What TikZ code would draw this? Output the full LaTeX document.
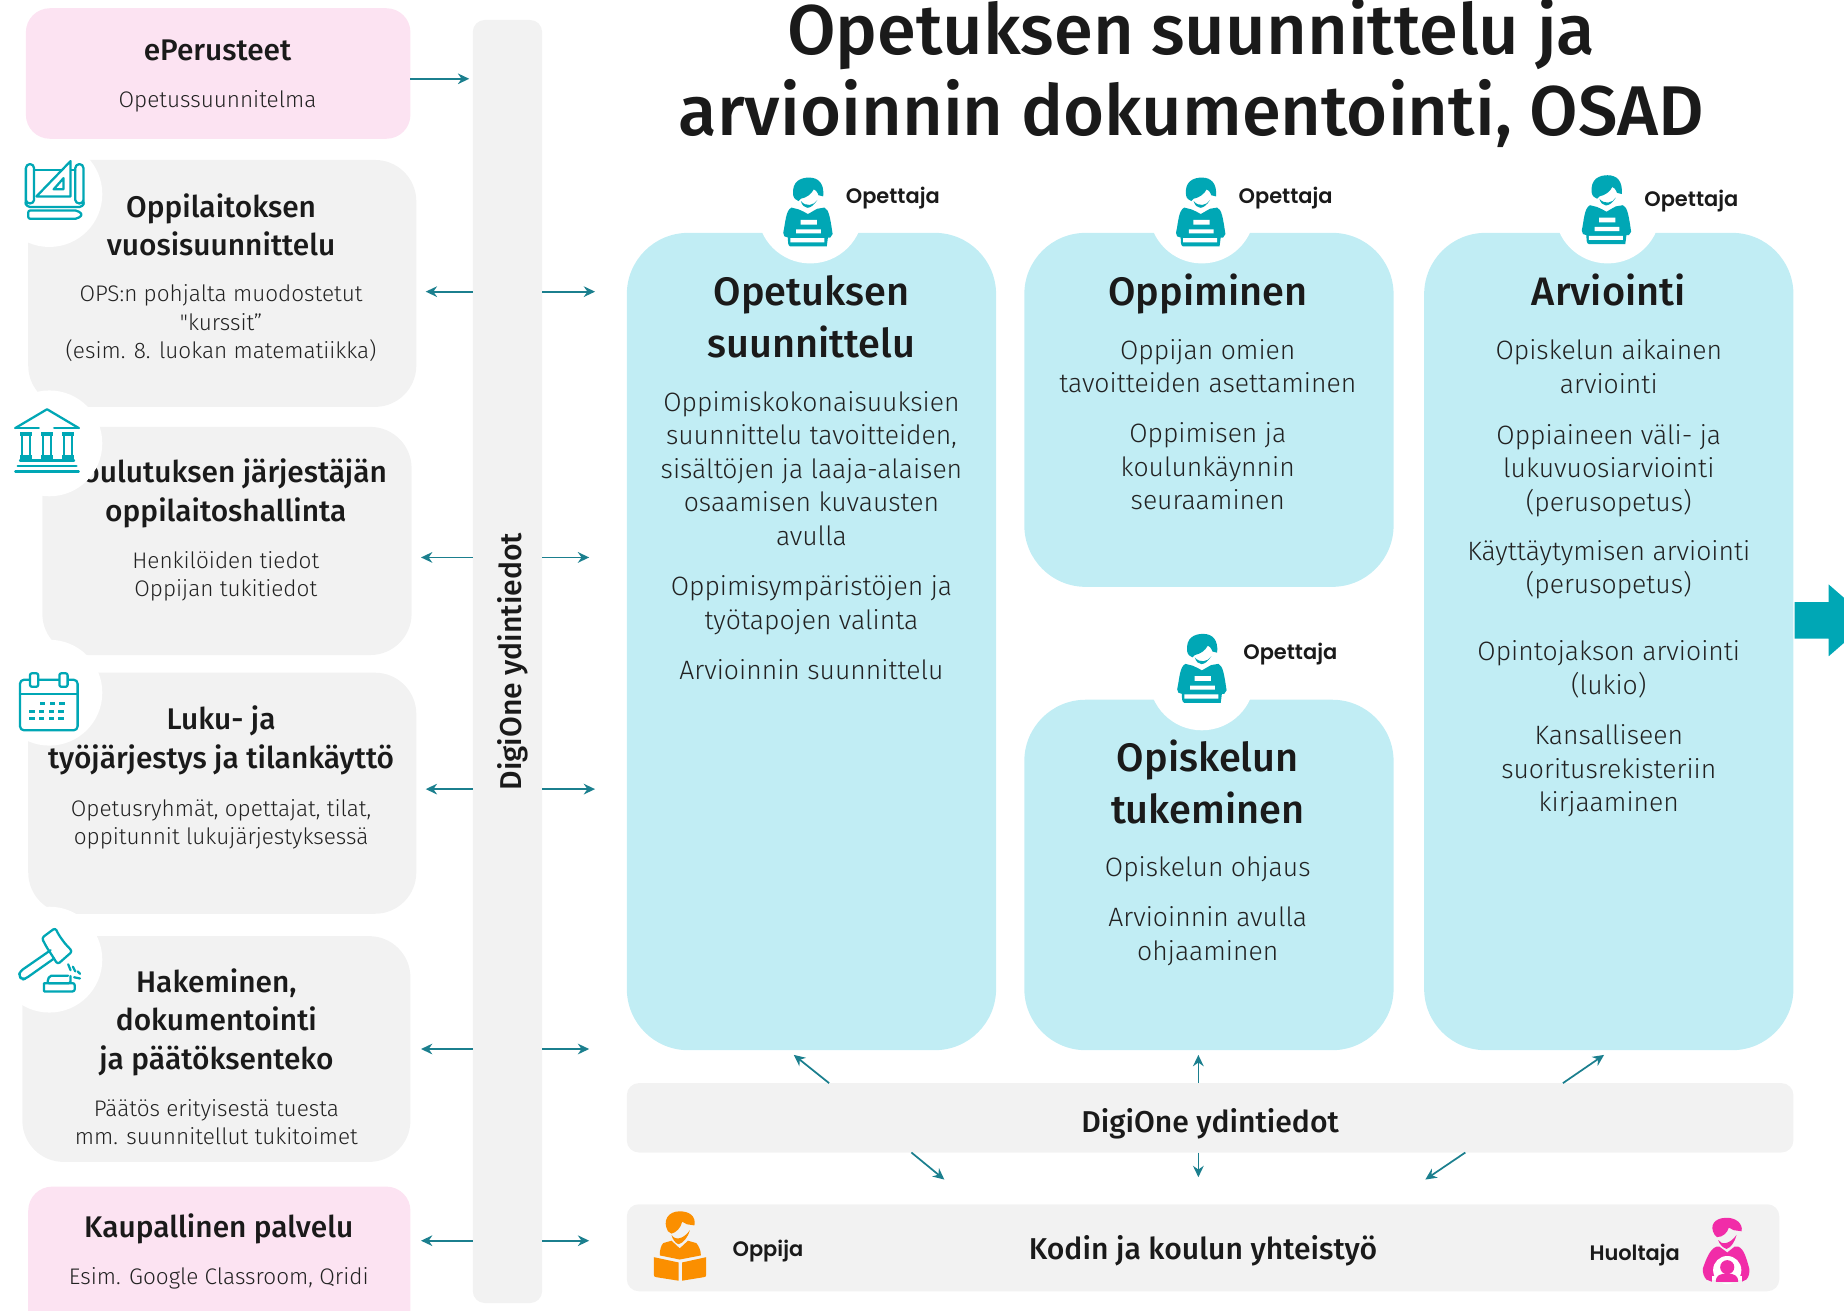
\documentclass[tikz,border=0pt]{standalone}
\usepackage{fontspec}
\usetikzlibrary{fit,arrows.meta}
\setmainfont{Fira Sans Light}
\newfontfamily\hf{Fira Sans Medium}
\newfontfamily\mf{Fira Sans Medium}
\newfontfamily\plainq{Fira Sans Light}
\newfontfamily\lf{Poppins SemiBold}
\definecolor{pinkbox}{HTML}{FCE3F2}
\definecolor{greybox}{HTML}{F2F2F2}
\definecolor{bluecard}{HTML}{C1EDF4}
\definecolor{tealicon}{HTML}{00A7B5}
\definecolor{arrowteal}{HTML}{1B7F8E}
\definecolor{ink}{HTML}{1A1A1A}
\definecolor{bodyink}{HTML}{222222}
\definecolor{orangeicon}{HTML}{FB8F00}
\definecolor{pinkicon}{HTML}{F12CA8}
\newcommand\fz[2]{\fontsize{#1pt}{#2pt}\selectfont}
\newcommand\bx[6]{\coordinate (#2-a) at (#3,#4);\coordinate (#2-b) at (#5,#6);\node[#1,fit=(#2-a)(#2-b)] (#2) {};}
\newcommand\teacher[2]{%
\begin{scope}[shift={(#1,#2)}]
\fill[tealicon] (-12.5,15) .. controls (-14,3) and (-6,0) .. (1,0) .. controls (9,0) and (14,5) .. (13,16) -- (9,15) .. controls (8,12) and (6,10) .. (5,10) .. controls (3,14) and (-1,17) .. (-6,18) -- (-8,20) .. controls (-10,19) and (-12,18) .. cycle;
\fill[tealicon] (-6,20) .. controls (-4,27) and (2,28.5) .. (8,19) .. controls (5,24) and (-2,25) .. cycle;
\fill[tealicon] (-14,25.5) -- (-8,27) .. controls (-5,28) and (-2,30) .. (0,31) .. controls (2,30) and (5,28) .. (8,26.5) -- (14,25.5) .. controls (18,27) and (19,35) .. (21,48) -- (19,51) -- (17,51) -- (16,58.6) -- (-15,58.6) .. controls (-17,58) and (-17,55) .. (-17,51) -- (-20,50) -- (-21,47) .. controls (-19,38) and (-19,28) .. cycle;
\fill[white] (-6.2,36) rectangle (7.6,40) (-10,44) rectangle (11,47.5) (-15,51.5) rectangle (14,55);
\end{scope}}
\tikzset{
 card/.style={fill=bluecard,rounded corners=46pt,inner sep=0pt,outer sep=0pt},
 greyb/.style={fill=greybox,rounded corners=31pt,inner sep=0pt,outer sep=0pt},
 pinkb/.style={fill=pinkbox,rounded corners=18pt,inner sep=0pt,outer sep=0pt},
 flat/.style={fill=greybox,rounded corners=9pt,inner sep=0pt,outer sep=0pt},
 arr/.style={draw=arrowteal,line width=1.3pt,-{Stealth[length=8.5pt,width=8pt]}},
 title/.style={align=center,inner sep=0pt,text=ink,font=\hf\fz{52.8}{60.3}},
 chead/.style={align=center,inner sep=0pt,text=ink,yshift=-2.6pt,font=\hf\fz{29.8}{38.8}},
 lhead/.style={align=center,inner sep=0pt,text=ink,yshift=-2.6pt,font=\hf\fz{22.4}{29.1}},
 cbody/.style={align=center,inner sep=0pt,text=bodyink,yshift=-2.6pt,font=\fz{19.9}{25.1}},
 lbody/.style={align=center,inner sep=0pt,text=bodyink,yshift=-2.2pt,font=\fz{16.9}{21.4}},
 bar/.style={align=center,inner sep=0pt,text=ink,yshift=-2.2pt,font=\mf\fz{22.6}{28}},
 vbartext/.style={inner sep=0pt,text=ink,font=\mf\fz{22.6}{28}},
 who/.style={inner sep=0pt,text=ink,yshift=-1.6pt,font=\lf\fz{15.7}{19}},
 icon/.style={draw=tealicon,line width=1.7pt,line join=round,line cap=round,fill=white},
 iconl/.style={draw=tealicon,line width=1.7pt,line join=round,line cap=round},
}
\begin{document}
\begin{tikzpicture}[x=0.882pt,y=-0.882pt]
\useasboundingbox (0,0) rectangle (1568,1114);
% boxes
\bx{pinkb}{eper}{22}{7}{349}{118}
\bx{greyb}{oppi}{24}{136}{354}{346}
\bx{greyb}{koul}{36}{363}{350}{557}
\bx{greyb}{luku}{24}{572}{354}{777}
\bx{greyb}{hake}{19}{796}{349}{988}
\bx{pinkb}{kaup}{24}{1009}{349}{1135}
\bx{flat}{vbar}{402}{17}{461}{1108}
\bx{card}{c1}{533}{198}{847}{893}
\bx{card}{c2}{871}{198}{1185}{499}
\bx{card}{c3}{871}{595}{1185}{893}
\bx{card}{c4}{1211}{198}{1525}{893}
\bx{flat}{mid}{533}{921}{1525}{980}
\bx{flat}{koti}{533}{1024}{1513}{1098}
% left texts
\node[lhead] (t1) at (185,42) {\strut ePerusteet\strut};
\node[lbody] (t1b) at (185,84) {\strut Opetussuunnitelma\strut};
\node[lhead] (t2) at (188,191.5) {\strut Oppilaitoksen\\vuosisuunnittelu\strut};
\node[lbody] (t2b) at (188,273.5) {\strut OPS:n pohjalta muodostetut\\{\plainq"}kurssit”\\(esim. 8. luokan matematiikka)\strut};
\node[lhead] (t3) at (192,417.5) {\strut Koulutuksen järjestäjän\\oppilaitoshallinta\strut};
\node[lbody] (t3b) at (192,488) {\strut Henkilöiden tiedot\\Oppijan tukitiedot\strut};
\node[lhead] (t4) at (188,627.5) {\strut Luku- ja\\työjärjestys ja tilankäyttö\strut};
\node[lbody] (t4b) at (188,699) {\strut Opetusryhmät, opettajat, tilat,\\oppitunnit lukujärjestyksessä\strut};
\node[lhead] (t5) at (184,867) {\strut Hakeminen,\\dokumentointi\\ja päätöksenteko\strut};
\node[lbody] (t5b) at (184,954) {\strut Päätös erityisestä tuesta\\mm. suunnitellut tukitoimet\strut};
\node[lhead] (t6) at (186,1043) {\strut Kaupallinen palvelu\strut};
\node[lbody] (t6b) at (186,1085) {\strut Esim. Google Classroom, Qridi\strut};
\node[vbartext,rotate=90] (vt) at (436,562.5) {DigiOne ydintiedot};
% circles over the left boxes
\fill[white] (42,165) circle[radius=45] (42,377) circle[radius=45] (42,589) circle[radius=45] (42,816) circle[radius=45];
% title
\node[title] (ti) at (1013,67) {\strut Opetuksen suunnittelu ja\\arvioinnin dokumentointi, OSAD\strut};
% circles over cards
\fill[white] (689,179) circle[radius=45] (1022,179) circle[radius=45] (1367,179) circle[radius=45] (1022,576) circle[radius=45];
\teacher{687}{151}\teacher{1021}{151}\teacher{1366}{149}\teacher{1022}{539}
\node[who,anchor=west] (w1) at (719,167) {Opettaja};
\node[who,anchor=west] (w2) at (1053,167) {Opettaja};
\node[who,anchor=west] (w3) at (1398,169) {Opettaja};
\node[who,anchor=west] (w4) at (1057,554) {Opettaja};
% card texts
\node[chead] (h1) at (690,270) {\strut Opetuksen\\suunnittelu\strut};
\node[cbody] (b1a) at (690,398) {\strut Oppimiskokonaisuuksien\\suunnittelu tavoitteiden,\\sisältöjen ja laaja-alaisen\\osaamisen kuvausten\\avulla\strut};
\node[cbody] (b1b) at (690,512) {\strut Oppimisympäristöjen ja\\työtapojen valinta\strut};
\node[cbody] (b1c) at (690,569) {\strut Arvioinnin suunnittelu\strut};
\node[chead] (h2) at (1027,248) {\strut Oppiminen\strut};
\node[cbody] (b2a) at (1027,311) {\strut Oppijan omien\\tavoitteiden asettaminen\strut};
\node[cbody] (b2b) at (1027,396.5) {\strut Oppimisen ja\\koulunkäynnin\\seuraaminen\strut};
\node[chead] (h3) at (1027,666.5) {\strut Opiskelun\\tukeminen\strut};
\node[cbody] (b3a) at (1027,737) {\strut Opiskelun ohjaus\strut};
\node[cbody] (b3b) at (1027,793.5) {\strut Arvioinnin avulla\\ohjaaminen\strut};
\node[chead] (h4) at (1368,248) {\strut Arviointi\strut};
\node[cbody] (b4a) at (1368,311.5) {\strut Opiskelun aikainen\\arviointi\strut};
\node[cbody] (b4b) at (1368,397.5) {\strut Oppiaineen väli- ja\\lukuvuosiarviointi\\(perusopetus)\strut};
\node[cbody] (b4c) at (1368,482) {\strut Käyttäytymisen arviointi\\(perusopetus)\strut};
\node[cbody] (b4d) at (1368,567.5) {\strut Opintojakson arviointi\\(lukio)\strut};
\node[cbody] (b4e) at (1368,653) {\strut Kansalliseen\\suoritusrekisteriin\\kirjaaminen\strut};
% bars text
\node[bar] (mt) at (1029,954) {\strut DigiOne ydintiedot\strut};
\node[bar] (kt) at (1023,1062) {\strut Kodin ja koulun yhteistyö\strut};
\node[who] (oj) at (653,1062) {Oppija};
\node[who] (hu) at (1390,1065) {Huoltaja};
% connectors
\coordinate (e1) at (399,67);
\draw[arr] (eper.east |- e1) -- (e1);
\coordinate (l1) at (362,248); \coordinate (r1) at (506,248);
\coordinate (l2) at (358,474); \coordinate (r2) at (501,474);
\coordinate (l3) at (362,671); \coordinate (r3) at (506,671);
\coordinate (l4) at (358,892); \coordinate (r4) at (501,892);
\coordinate (l5) at (358,1055); \coordinate (r5) at (501,1055);
\foreach \i in {1,...,5}{
 \draw[arr] (vbar.west |- l\i) -- (l\i);
 \draw[arr] (vbar.east |- r\i) -- (r\i);
}
\coordinate (ua) at (705,0); \coordinate (ub) at (1019,0); \coordinate (uc) at (1329,0);
\coordinate (da) at (775,0); \coordinate (dc) at (1246,0);
\coordinate (ta) at (675,897); \coordinate (tb) at (1019,897); \coordinate (tc) at (1364,897);
\coordinate (ba) at (803,1003); \coordinate (bb) at (1019,1001); \coordinate (bc) at (1212,1003);
\draw[arr] (mid.north -| ua) -- (ta);
\draw[arr] (mid.north -| ub) -- (tb);
\draw[arr] (mid.north -| uc) -- (tc);
\draw[arr] (mid.south -| da) -- (ba);
\draw[arr] (mid.south -| ub) -- (bb);
\draw[arr] (mid.south -| dc) -- (bc);
% exit arrow
\fill[tealicon] (1526,512) -- (1555,512) -- (1555,497) -- (1590,527.5) -- (1555,558) -- (1555,543) -- (1526,543) -- cycle;
% blueprint icon
\draw[iconl] (29,144.5) -- (64,144.5);
\draw[iconl] (22,174) -- (22,143) arc[start angle=180,end angle=360,x radius=3.5,y radius=3.5] -- (29,170) arc[start angle=0,end angle=180,x radius=3.5,y radius=3] ;
\draw[iconl] (71,174) -- (71,143) arc[start angle=0,end angle=-180,x radius=3.5,y radius=3.5] -- (64,170) arc[start angle=180,end angle=0,x radius=3.5,y radius=3];
\draw[iconl,rounded corners=3pt] (22,172) -- (22,176) -- (71,176) -- (71,172);
\draw[iconl,fill=white] (31,167) -- (60,137) -- (60,167) -- cycle;
\draw[iconl] (45.6,161) -- (54,151.5) -- (54,161) -- cycle;
\draw[iconl,rounded corners=1.5pt] (66,179) -- (24,179) -- (24,186) -- (66,186) -- (70,182.5) -- cycle;
% temple icon
\draw[iconl] (13,364) -- (40,348) -- (67,364);
\draw[iconl] (13,364) -- (33,364) (46,364) -- (67,364);
\foreach \cx in {22,40,58}{
 \fill[tealicon] (\cx-5,367) rectangle (\cx+5,371);
 \fill[tealicon] (\cx-5,387) rectangle (\cx+5,391);
 \draw[iconl] (\cx-3.5,370) -- (\cx-3.5,388) (\cx+3.5,370) -- (\cx+3.5,388);
}
\draw[iconl] (17,391.5) -- (63,391.5);
\draw[iconl] (15,396) -- (65,396) (13,401) -- (67,401);
% calendar icon
\draw[iconl,rounded corners=3pt] (17,578) rectangle (66,621);
\draw[iconl] (17,590) -- (66,590);
\draw[icon,rounded corners=1.5pt] (25.5,572.5) rectangle (32.5,584);
\draw[icon,rounded corners=1.5pt] (50.5,572.5) rectangle (57.5,584);
\foreach \yy/\xa in {598/34,605/25,611/25}{
 \foreach \k in {0,1,2,3}{
  \pgfmathsetmacro\xv{\xa+\k*8.2}
  \ifdim\xv pt<58pt \fill[tealicon] (\xv,\yy-1) rectangle ++(4.5,2.4);\fi
 }
}
% gavel icon
\draw[iconl,rounded corners=2pt] (35.5,797.6) -- (47,789) -- (50,795) -- (55,802) -- (61.5,809) -- (49,820) -- (44,812) -- (40,806) -- cycle;
\draw[iconl,rounded corners=2.5pt] (43,808) -- (17,826) -- (16,830) -- (19,833) -- (22,832) -- (46,815);
\draw[iconl,rounded corners=1.5pt] (58,829.6) -- (42,829.6) -- (40,836) -- (60,836) -- (60,830);
\draw[iconl,rounded corners=1.5pt] (37.5,843) -- (37.5,836) (37.5,843) -- (63.5,843) -- (63.5,836) -- (37.5,836);
\draw[iconl] (58,820) -- (60,825) (62,822) -- (64,826) (66,826) -- (68,828) (63,831) -- (68,832);
% reader icon
\fill[orangeicon] (568,1047) .. controls (563,1038) and (568,1030) .. (578,1030) .. controls (586,1030) and (592,1034) .. (590.5,1042) -- (584,1041) .. controls (582,1040) and (581,1039) .. (580,1039) .. controls (579,1044) and (575,1048) .. (571,1049) -- cycle;
\fill[orangeicon] (571,1050) .. controls (574,1055) and (581,1054) .. (586.7,1046) .. controls (585,1052) and (581,1057) .. (577,1058) .. controls (574,1057) and (572,1054) .. cycle;
\fill[orangeicon] (564,1057) -- (571,1055) -- (578,1061.5) -- (585,1055) -- (592,1057) .. controls (594,1059) and (596,1063) .. (596,1067.5) -- (578,1071) -- (561,1067.5) .. controls (561,1063) and (562,1059) .. (564,1057) -- cycle;
\fill[orangeicon] (556,1069) -- (577,1073.5) -- (577,1089) -- (558,1086) .. controls (556.5,1086) and (556,1085) .. (556,1084) -- cycle;
\fill[orangeicon] (600.5,1069) -- (580,1073.5) -- (580,1089) -- (598.5,1086) .. controls (600,1086) and (600.5,1085) .. (600.5,1084) -- cycle;
% guardian icon
\fill[pinkicon] (1458,1050) .. controls (1453,1042) and (1458,1035.5) .. (1468,1035.5) .. controls (1476,1035.5) and (1482,1040) .. (1481,1047) -- (1474,1046) .. controls (1472,1045) and (1471,1044) .. (1470,1044) .. controls (1469,1048) and (1465,1052) .. (1460,1052) -- cycle;
\fill[pinkicon] (1461,1054.4) .. controls (1464,1059) and (1471,1058) .. (1476.7,1050) .. controls (1475,1056) and (1472,1061) .. (1468,1062) .. controls (1465,1061) and (1462,1058) .. cycle;
\fill[pinkicon] (1459.7,1060) -- (1462,1060) -- (1468.7,1065) -- (1475,1060) -- (1478,1060) .. controls (1483,1062) and (1485,1070) .. (1487.4,1078.5) .. controls (1488,1082) and (1487,1086) .. (1485,1088) -- (1481,1090) -- (1456,1090) -- (1451,1088) .. controls (1449,1086) and (1447.5,1082) .. (1448,1078.5) .. controls (1451,1070) and (1454,1062) .. (1459.7,1060) -- cycle;
\fill[white] (1468.7,1080) circle[radius=12];
\fill[white] (1456,1085) rectangle (1481,1091);
\fill[greybox] (1456,1088.5) rectangle (1481,1091);
\fill[pinkicon] (1468.7,1077.5) circle[radius=6];
\fill[pinkicon] (1459,1090) .. controls (1459,1084) and (1463,1083) .. (1468.7,1083) .. controls (1474,1083) and (1478,1084) .. (1478,1090) -- cycle;
\end{tikzpicture}
\end{document}
